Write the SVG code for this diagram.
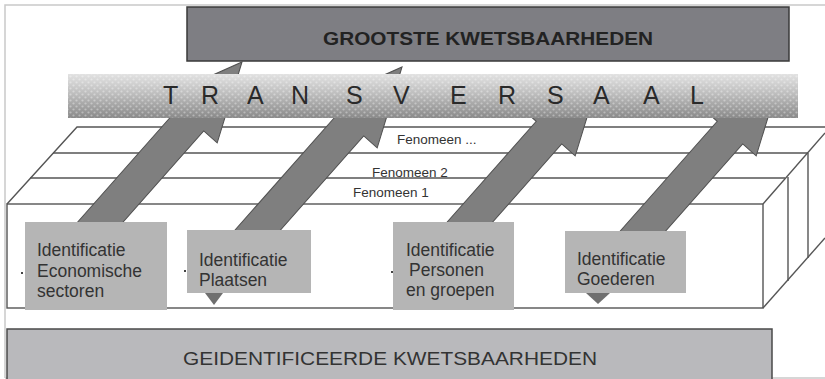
<svg xmlns="http://www.w3.org/2000/svg" xmlns:xlink="http://www.w3.org/1999/xlink" width="825" height="379" viewBox="0 0 825 379">
<style>
.ln{stroke:#555;stroke-width:1.4;fill:none}
.frame{stroke:#c9c9c9;stroke-width:1.5;fill:none}
.fen{font-family:"Liberation Sans",Arial,sans-serif;font-size:13.5px;fill:#333}
.idbox{fill:#b5b5b5}
.idt{font-family:"Liberation Sans",Arial,sans-serif;font-size:17.5px;fill:#333}
.arrow{fill:#7f7f7f;stroke:#505050;stroke-width:1}
.tri{fill:#6f6f6f}
.dot{fill:#444}
</style>
<defs>
<linearGradient id="barg" x1="0" y1="0" x2="0" y2="1">
<stop offset="0" stop-color="#e2e2e2"/>
<stop offset="0.45" stop-color="#bdbdbd"/>
<stop offset="1" stop-color="#8a8a8a"/>
</linearGradient>
<pattern id="dots" width="6" height="6" patternUnits="userSpaceOnUse">
<circle cx="1.5" cy="1.5" r="1.1" fill="#ffffff" fill-opacity="0.35"/>
<circle cx="4.5" cy="4.5" r="1.1" fill="#ffffff" fill-opacity="0.35"/>
</pattern>
<path id="arr" d="M0,0 L-77,35 L-77,17 L-250,17 L-250,-17 L-77,-17 L-77,-35 Z"/>
</defs>
<rect x="0" y="0" width="825" height="379" fill="#ffffff"/>
<g id="frame">
<path class="frame" d="M5,378 L5,5 L825,5"/>
<path class="frame" d="M5,378 L825,378"/>
</g>
<g id="fenomenen">
<rect class="ln" x="7" y="204" width="756" height="104" fill="#fff"/>
<path class="ln" d="M7,204 L77,127 L825,127"/>
<path class="ln" d="M30,178 L785,178"/>
<path class="ln" d="M53,153 L808,153"/>
<path class="ln" d="M763,204 L825,133"/>
<path class="ln" d="M763,308 L825,238"/>
<path class="ln" d="M788,177 L788,281"/>
<path class="ln" d="M808,153 L808,258"/>
<text class="fen" x="397" y="144">Fenomeen ...</text>
<text class="fen" x="372" y="176.5">Fenomeen 2</text>
<text class="fen" x="353" y="197">Fenomeen 1</text>
</g>
<g id="grootste">
<rect x="187" y="7" width="602" height="54" fill="#7e7e83" stroke="#3a3a3a" stroke-width="1.5"/>
<text x="323" y="45" textLength="330" lengthAdjust="spacingAndGlyphs" font-family="'Liberation Sans',Arial,sans-serif" font-size="18" font-weight="bold" fill="#222">GROOTSTE KWETSBAARHEDEN</text>
</g>
<g id="connectors">
<use href="#arr" class="arrow" transform="translate(242,62) rotate(-48.5)"/>
<use href="#arr" class="arrow" transform="translate(402,67) rotate(-48.5)"/>
<use href="#arr" class="arrow" transform="translate(600,75) rotate(-48.5)"/>
<use href="#arr" class="arrow" transform="translate(781,75) rotate(-48.5)"/>
</g>
<g id="transversaal">
<rect x="68" y="74" width="730" height="44" fill="url(#barg)"/>
<rect x="68" y="74" width="730" height="44" fill="url(#dots)"/>
<text x="163 180 201 222 247 268 291 312 346 366 393 414 450 470 498 519 547 567 593 614 643 664 690" y="104" font-family="'Liberation Sans',Arial,sans-serif" font-size="25" fill="#2a2a2a">T R A N S V E R S A A L</text>
</g>
<g id="id-economische">
<rect class="dot" x="21" y="272" width="2" height="2"/>
<rect class="idbox" x="25" y="222" width="142" height="88"/>
<text class="idt" x="37" y="256">Identificatie</text>
<text class="idt" x="37" y="276.5">Economische</text>
<text class="idt" x="37" y="297">sectoren</text>
</g>
<g id="id-plaatsen">
<rect class="dot" x="184" y="270" width="2" height="2"/>
<rect class="idbox" x="187" y="230" width="124" height="63"/>
<path class="tri" d="M205,293 L223,293 L214,305 Z"/>
<text class="idt" x="199" y="266">Identificatie</text>
<text class="idt" x="199" y="286">Plaatsen</text>
</g>
<g id="id-personen">
<rect class="dot" x="391" y="271" width="2" height="2"/>
<rect class="idbox" x="393" y="222" width="121" height="88"/>
<text class="idt" x="406" y="256">Identificatie</text>
<text class="idt" x="409" y="276">Personen</text>
<text class="idt" x="406" y="296">en groepen</text>
</g>
<g id="id-goederen">
<rect class="idbox" x="565" y="231" width="121" height="62"/>
<path class="tri" d="M586,293 L610,293 L598,304 Z"/>
<text class="idt" x="577" y="265">Identificatie</text>
<text class="idt" x="577" y="285">Goederen</text>
</g>
<g id="geidentificeerde">
<rect x="7" y="329" width="765" height="60" fill="#b9b9bc" stroke="#4a4a4a" stroke-width="1.5"/>
<text x="183" y="365" textLength="414" lengthAdjust="spacingAndGlyphs" font-family="'Liberation Sans',Arial,sans-serif" font-size="18.5" fill="#333">GEIDENTIFICEERDE KWETSBAARHEDEN</text>
</g>
</svg>
